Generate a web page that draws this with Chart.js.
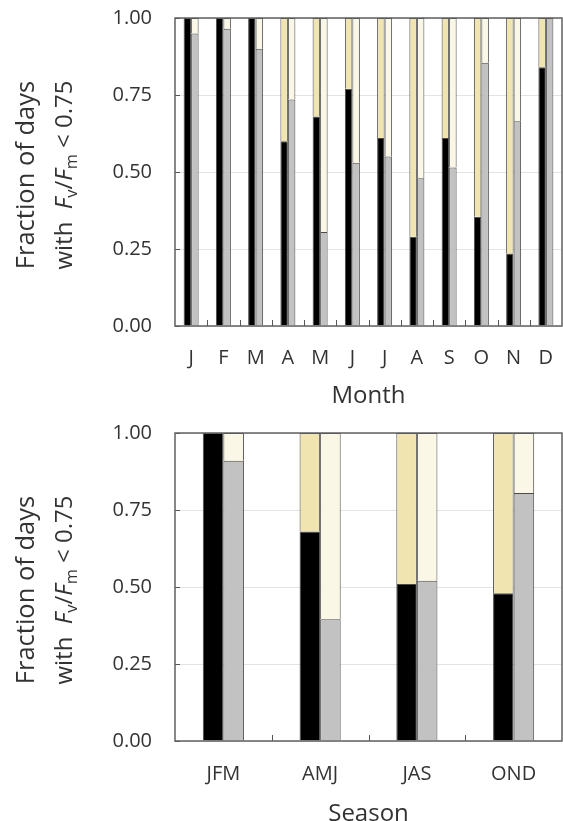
<!DOCTYPE html>
<html>
<head>
<meta charset="utf-8">
<script src="https://cdn.jsdelivr.net/npm/chart.js@4.4.1/dist/chart.umd.min.js"></script>
<style>
  html, body { margin: 0; padding: 0; background: #fff; overflow: hidden; width: 563px; height: 821px; }
  .box { position: absolute; left: 0; width: 563px; height: 415px; }
  .yt { position: absolute; font-family: 'Open Sans', sans-serif; font-size: 24px; line-height: 24px;
        white-space: nowrap; color: #333; transform: translate(-50%, -50%) rotate(-90deg); }
  .yt.l1 { font-size: 25.5px; }
  .yt i { font-style: italic; }
  .yt .sb { font-size: 0.68em; position: relative; top: 0.28em; line-height: 0; }
</style>
</head>
<body>
<div class="box" style="top:0"><canvas id="c1"></canvas></div>
<div class="box" style="top:415px"><canvas id="c2"></canvas></div>

<div class="yt l1" style="left:23.5px; top:175px">Fraction of days</div>
<div class="yt" style="left:62.5px; top:175px">with&nbsp;&nbsp;<i>F</i><span class="sb">v</span>/<i>F</i><span class="sb">m</span> &lt; 0.75</div>
<div class="yt l1" style="left:23.5px; top:590px">Fraction of days</div>
<div class="yt" style="left:62.5px; top:590px">with&nbsp;&nbsp;<i>F</i><span class="sb">v</span>/<i>F</i><span class="sb">m</span> &lt; 0.75</div>

<script>
// ---- Data ----
const months = ['J','F','M','A','M','J','J','A','S','O','N','D'];
const monthBlack = [1.00, 1.00, 1.00, 0.60, 0.68, 0.77, 0.61, 0.29, 0.61, 0.355, 0.235, 0.84];
const monthTan   = [0.00, 0.00, 0.00, 0.40, 0.32, 0.23, 0.39, 0.71, 0.39, 0.645, 0.765, 0.16];
const monthGrey  = [0.95, 0.965, 0.90, 0.735, 0.305, 0.53, 0.55, 0.48, 0.515, 0.855, 0.665, 1.00];
const monthCream = [0.05, 0.035, 0.10, 0.265, 0.695, 0.47, 0.45, 0.52, 0.485, 0.145, 0.335, 0.00];

const seasons = ['JFM','AMJ','JAS','OND'];
const seasonBlack = [1.00, 0.68, 0.51, 0.48];
const seasonTan   = [0.00, 0.32, 0.49, 0.52];
const seasonGrey  = [0.91, 0.395, 0.52, 0.805];
const seasonCream = [0.09, 0.605, 0.48, 0.195];

const yTicks = [0, 0.25, 0.5, 0.75, 1.0];

// ---- Styling ----
const FONT = "'Open Sans', sans-serif";
const TXT = '#333';
const EDGE = '#4a4a4a';

const frameTicks = {
  id: 'frameTicks',
  afterDatasetsDraw(chart) {
    const { ctx, chartArea: a, scales: { x, y } } = chart;
    ctx.save();
    ctx.strokeStyle = '#555';
    ctx.lineWidth = 1;
    ctx.beginPath();
    y.ticks.forEach(t => {
      const py = Math.round(y.getPixelForValue(t.value)) + 0.5;
      ctx.moveTo(a.left, py); ctx.lineTo(a.left + 5, py);
    });
    for (let i = 0; i < x.ticks.length - 1; i++) {
      const px = Math.round((x.getPixelForValue(i) + x.getPixelForValue(i + 1)) / 2) + 0.5;
      ctx.moveTo(px, a.bottom); ctx.lineTo(px, a.bottom - 6);
    }
    ctx.stroke();
    ctx.lineWidth = 1.5;
    ctx.strokeStyle = '#606060';
    ctx.strokeRect(a.left, a.top, a.right - a.left, a.bottom - a.top);
    ctx.restore();
  }
};

function makeChart(id, labels, black, tan, grey, cream, catPct, xTitle, tickPad, titlePadBottom) {
  const ds = (data, color, stack) => ({
    data, backgroundColor: color, borderColor: EDGE, borderWidth: 1, stack,
    barPercentage: 1, categoryPercentage: catPct
  });
  return new Chart(document.getElementById(id), {
    type: 'bar',
    data: {
      labels,
      datasets: [
        ds(black, '#000000', 'a'),
        ds(tan, '#f0e5b0', 'a'),
        ds(grey, '#c2c2c2', 'b'),
        ds(cream, '#fbf7e6', 'b')
      ]
    },
    options: {
      responsive: true,
      maintainAspectRatio: false,
      animation: false,
      devicePixelRatio: 1,
      layout: { padding: { top: 18, right: 1, left: 0, bottom: 0 } },
      plugins: { legend: { display: false }, tooltip: { enabled: false } },
      scales: {
        x: {
          stacked: true,
          offset: true,
          grid: { display: false, drawTicks: false },
          border: { display: false },
          ticks: { color: TXT, font: { family: FONT, size: 20 }, padding: tickPad, autoSkip: false, maxRotation: 0 },
          title: { display: true, text: xTitle, color: TXT, font: { family: FONT, size: 24 },
                   padding: { top: 0, bottom: titlePadBottom } },
          afterFit(s) { s.height = 89; s.paddingLeft = 0; s.paddingRight = 0; }
        },
        y: {
          stacked: true,
          min: 0, max: 1,
          afterBuildTicks(s) { s.ticks = yTicks.map(v => ({ value: v })); },
          grid: { color: '#e4e4e4', lineWidth: 1, drawTicks: false },
          border: { display: false },
          ticks: { color: TXT, font: { family: FONT, size: 20 }, padding: 23,
                   callback: v => Number(v).toFixed(2) },
          afterFit(s) { s.width = 175; s.paddingTop = 0; s.paddingBottom = 0; }
        }
      }
    },
    plugins: [frameTicks]
  });
}

makeChart('c1', months, monthBlack, monthTan, monthGrey, monthCream, 0.465, 'Month', 20, 4);
makeChart('c2', seasons, seasonBlack, seasonTan, seasonGrey, seasonCream, 0.425, 'Season', 21, 1);
</script>
</body>
</html>
